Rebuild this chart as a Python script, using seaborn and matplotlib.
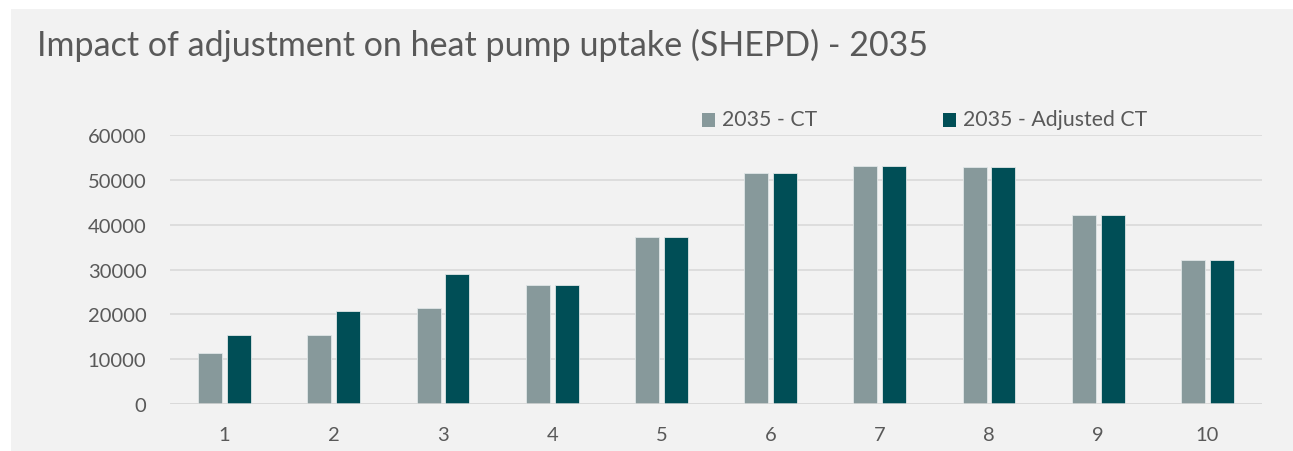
import pandas as pd
import seaborn as sns
import matplotlib.pyplot as plt
from matplotlib.patches import Rectangle

# Data
areas = ['1', '2', '3', '4', '5', '6', '7', '8', '9', '10']
ct_2035 = [11400, 15500, 21400, 26500, 37200, 51500, 53000, 52800, 42200, 32100]
adjusted_ct_2035 = [15400, 20800, 29000, 26500, 37200, 51500, 53000, 52800, 42200, 32100]
series_names = ['2035 - CT', '2035 - Adjusted CT']

df = pd.DataFrame({
    'area': areas * 2,
    'homes': ct_2035 + adjusted_ct_2035,
    'series': [series_names[0]] * len(areas) + [series_names[1]] * len(areas),
})

sns.set_style('white')
plt.rcParams['font.family'] = ['Lato', 'DejaVu Sans']

text_col = '#595959'
bg = '#f2f2f2'
colors = ['#87999b', '#004e56']

fig = plt.figure(figsize=(12.93, 4.52), dpi=100, facecolor='white')
fig.patches.append(Rectangle((11 / 1293, 0), 1, 1 - 10 / 452, transform=fig.transFigure,
                             facecolor=bg, edgecolor='none', zorder=-10))

ax = fig.add_axes([170 / 1293, 47 / 452, 1092 / 1293, 269 / 452])
ax.set_facecolor(bg)

sns.barplot(data=df, x='area', y='homes', hue='series', order=areas,
            palette=colors, saturation=1, width=0.53, gap=0.17,
            edgecolor='#dfe6e7', linewidth=0.6, legend=False, ax=ax, zorder=3)

ax.set_ylim(0, 60000)
ax.set_yticks(range(0, 60001, 10000))
ax.yaxis.grid(True, color='#d9d9d9', linewidth=1.2, zorder=0)
for s in ax.spines.values():
    s.set_visible(False)
ax.axhline(0, color='#d9d9d9', linewidth=1.8, zorder=4)
ax.tick_params(axis='both', length=0, labelsize=14.5, colors=text_col)
ax.tick_params(axis='x', pad=16)
ax.tick_params(axis='y', pad=17)
ax.set_xlabel('')
ax.set_ylabel('')

fig.text(37 / 1293, 1 - 45 / 452, 'Impact of adjustment on heat pump uptake (SHEPD) - 2035',
         fontsize=24.5, color=text_col, va='center', ha='left')

# legend
for name, col, x0 in zip(series_names, colors, [702, 943]):
    fig.patches.append(Rectangle((x0 / 1293, 1 - 128 / 452), 13 / 1293, 14 / 452,
                                 transform=fig.transFigure, facecolor=col, edgecolor='none'))
    fig.text((x0 + 20) / 1293, 1 - 120 / 452, name, fontsize=15.3, color=text_col,
             va='center', ha='left')

fig.savefig('out.png', dpi=100, facecolor=fig.get_facecolor())
